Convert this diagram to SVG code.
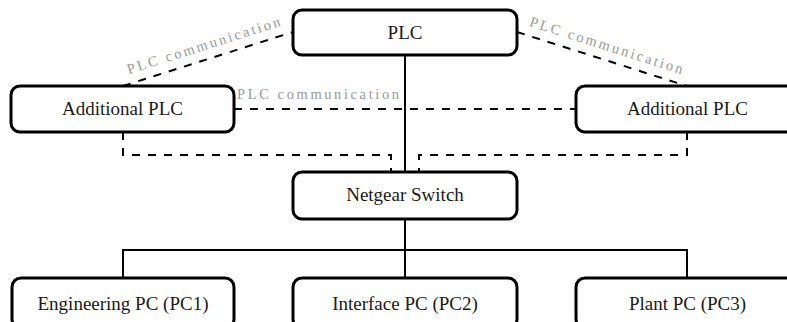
<svg xmlns="http://www.w3.org/2000/svg" width="787" height="322" viewBox="0 0 787 322">
<style>
.box{fill:#fff;stroke:#000;stroke-width:3}
.lbl{font-family:"Liberation Serif",serif;font-size:19px;fill:#1a1a1a;text-anchor:middle}
.sol{fill:none;stroke:#000;stroke-width:2}
.dash{fill:none;stroke:#000;stroke-width:2;stroke-dasharray:8 8}
.com{font-family:"Liberation Serif",serif;font-size:14.5px;fill:#999}
</style>
<rect width="787" height="322" fill="#fff"/>
<g id="connectors">
<path class="sol" d="M405,55V172M405,219V278M123,278V250H687V278"/>
<path class="dash" d="M123,86L293,32"/>
<path class="dash" d="M517,32L687,86"/>
<path class="dash" d="M234,109H576"/>
<path class="dash" d="M123,132V155H391V172"/>
<path class="dash" d="M687,132V155H419V172"/>
<text class="com" text-anchor="middle" transform="translate(205,50) rotate(-17.62)" textLength="160" lengthAdjust="spacing">PLC communication</text>
<text class="com" text-anchor="middle" transform="translate(605,50) rotate(17.62)" textLength="160" lengthAdjust="spacing">PLC communication</text>
<text class="com" x="237" y="99" textLength="162" lengthAdjust="spacing">PLC communication</text>
</g>
<g id="plc"><rect class="box" x="293" y="10" width="224" height="45" rx="9"/><text class="lbl" x="405" y="39">PLC</text></g>
<g id="additional-plc-left"><rect class="box" x="11" y="86" width="223" height="46" rx="9"/><text class="lbl" x="122.5" y="115">Additional PLC</text></g>
<g id="additional-plc-right"><rect class="box" x="576" y="86" width="223" height="46" rx="9"/><text class="lbl" x="687.5" y="115">Additional PLC</text></g>
<g id="switch"><rect class="box" x="293" y="172" width="224" height="47" rx="9"/><text class="lbl" x="405" y="201">Netgear Switch</text></g>
<g id="pc1"><rect class="box" x="12" y="278" width="222" height="50" rx="9"/><text class="lbl" x="123" y="310">Engineering PC (PC1)</text></g>
<g id="pc2"><rect class="box" x="293" y="278" width="224" height="50" rx="9"/><text class="lbl" x="405" y="310">Interface PC (PC2)</text></g>
<g id="pc3"><rect class="box" x="576" y="278" width="223" height="50" rx="9"/><text class="lbl" x="687.5" y="310">Plant PC (PC3)</text></g>
</svg>
